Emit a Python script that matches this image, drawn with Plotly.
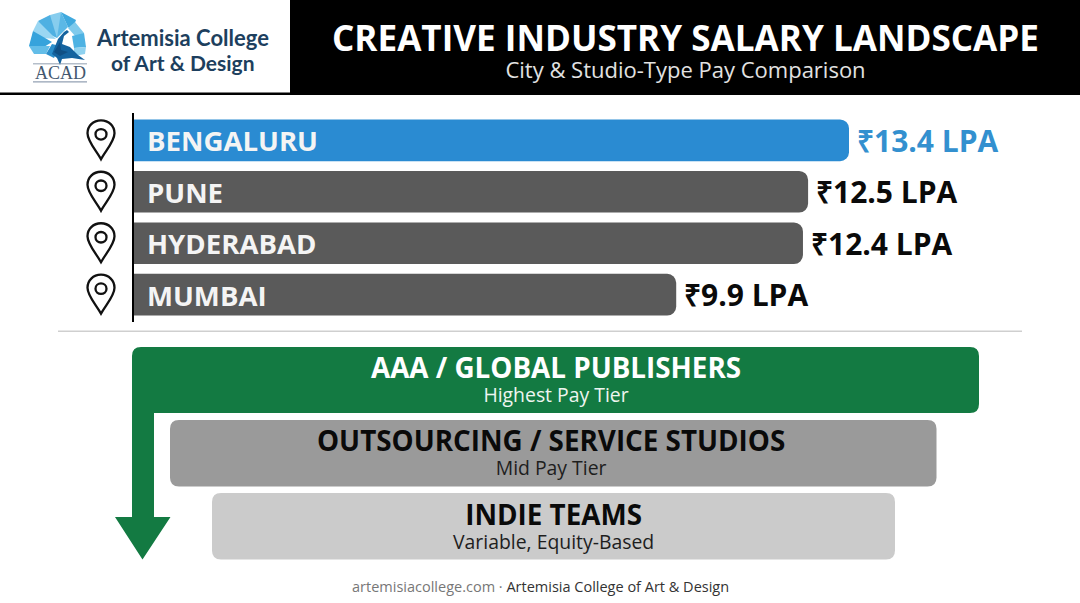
import plotly.graph_objects as go

W, H = 1080, 603
FONT = "Open Sans"

# ---- data ----
cities = ["BENGALURU", "PUNE", "HYDERABAD", "MUMBAI"]
pay_labels = ["₹13.4 LPA", "₹12.5 LPA", "₹12.4 LPA", "₹9.9 LPA"]
bar_lengths = [13.4, 12.645, 12.55, 10.21]
bar_colors = ["#2a8bd2", "#5a5a5a", "#5a5a5a", "#5a5a5a"]
label_colors = ["#3390cf", "#0a0a0a", "#0a0a0a", "#0a0a0a"]
tier_titles = ["AAA / GLOBAL PUBLISHERS", "OUTSOURCING / SERVICE STUDIOS", "INDIE TEAMS"]
tier_subs = ["Highest Pay Tier", "Mid Pay Tier", "Variable, Equity-Based"]
tier_text_colors = ["#ffffff", "#0a0a0a", "#0a0a0a"]
tier_sub_colors = ["#eef5f0", "#1e1e1e", "#1e1e1e"]


def X(p):
    return p / W


def Y(p):
    return 1 - p / H


def P(x, y):
    return f"{X(x):.5f},{Y(y):.5f}"


def poly(points):
    return "M" + " L".join(P(x, y) for x, y in points) + " Z"


def rrect(x0, y0, x1, y1, r):
    return (f"M{P(x0 + r, y0)} L{P(x1 - r, y0)} Q{P(x1, y0)} {P(x1, y0 + r)} "
            f"L{P(x1, y1 - r)} Q{P(x1, y1)} {P(x1 - r, y1)} L{P(x0 + r, y1)} "
            f"Q{P(x0, y1)} {P(x0, y1 - r)} L{P(x0, y0 + r)} Q{P(x0, y0)} {P(x0 + r, y0)} Z")


shapes = []
annots = []


def fill_shape(path, color, layer="below"):
    shapes.append(dict(type="path", xref="paper", yref="paper", path=path,
                       fillcolor=color, line=dict(width=0), layer=layer))


def text(x, y, s, size, color, bold=False, family=FONT, anchor="center"):
    annots.append(dict(xref="paper", yref="paper", x=X(x), y=Y(y), text=f"<b>{s}</b>" if bold else s,
                       showarrow=False, xanchor=anchor, yanchor="middle",
                       font=dict(family=family, size=size, color=color),
                       borderpad=0, borderwidth=0))


def two_lines(x, y, head, head_size, head_color, sub, sub_size, sub_color, base):
    s = (f'<span style="font-size:{head_size}px;color:{head_color}"><b>{head}</b></span><br>'
         f'<span style="font-size:{sub_size}px;color:{sub_color}">{sub}</span>')
    text(x, y, s, base, head_color)


# ---- header ----
fill_shape(poly([(290, 0), (W, 0), (W, 95), (290, 95)]), "#000000")
fill_shape(poly([(0, 92.5), (290, 92.5), (290, 95), (0, 95)]), "#000000")
two_lines(685, 48.5, "CREATIVE INDUSTRY SALARY LANDSCAPE", 35.1, "#ffffff",
          "City &amp; Studio-Type Pay Comparison", 22, "#e2e2e2", 21)

# logo
feathers = [
    ([(61, 12), (68, 27), (57, 38), (53, 24)], "#5bb8e6"),
    ([(50, 15), (61, 12), (57, 38), (46, 28)], "#87cdee"),
    ([(38, 21), (50, 15), (57, 38), (44, 32)], "#4fb0e2"),
    ([(33, 31), (38, 21), (56, 39), (42, 38)], "#9ad6f2"),
    ([(29, 46), (33, 31), (52, 42), (44, 47)], "#36a3dc"),
    ([(34, 54), (29, 46), (50, 46), (46, 54)], "#63bde8"),
    ([(68, 27), (61, 12), (76, 20), (72, 30)], "#3fa9de"),
    ([(75, 22), (84, 33), (76, 37), (68, 28)], "#7fcaec"),
    ([(84, 33), (86, 47), (74, 48), (72, 36)], "#4db2e3"),
    ([(74, 48), (86, 47), (85, 54), (74, 56)], "#8fd2f0"),
    ([(46, 54), (52, 44), (60, 46), (54, 58)], "#2a8ecb"),
]
for pts, col in feathers:
    fill_shape(poly(pts), col)
fill_shape(poly([(52, 54), (58, 39), (64, 32), (67, 30), (69, 32), (64, 36), (62, 44),
                 (70, 47), (78, 55), (85, 60), (72, 58), (62, 59), (60, 65), (57, 58)]), "#14639f")
fill_shape(poly([(54, 52), (60, 42), (61, 50), (68, 52), (60, 56)]), "#0f4f84")
fill_shape(poly([(33, 63.5), (87, 63.5), (87, 64.3), (33, 64.3)]), "#6c7f95")
fill_shape(poly([(33, 81.2), (87, 81.2), (87, 82.6), (33, 82.6)]), "#93a1b3")
text(60, 73, "ACAD", 18, "#44586f", family="Liberation Serif")
text(182.5, 37, "Artemisia College", 22, "#1d3f5e", bold=True, family="Lato")
text(182.5, 62.5, "of Art &amp; Design", 21, "#1d3f5e", bold=True, family="Lato")

# ---- pins, anchored on each category ----
pin_outer = ("M0,20 C-8,20 -13.5,14 -13.5,7 C-13.5,-1 -5,-10 0,-19 "
             "C5,-10 13.5,-1 13.5,7 C13.5,14 8,20 0,20 Z")
pin_inner = "M-5.5,6 C-5.5,-1 5.5,-1 5.5,6 C5.5,13 -5.5,13 -5.5,6 Z"
for i in range(len(cities)):
    for path in (pin_outer, pin_inner):
        shapes.append(dict(type="path", xref="paper", xanchor=X(101), xsizemode="pixel",
                           yref="y", yanchor=i, ysizemode="pixel", path=path,
                           fillcolor="rgba(0,0,0,0)", line=dict(color="#111111", width=2.3)))

# ---- divider ----
fill_shape(poly([(58, 330.5), (1022, 330.5), (1022, 332), (58, 332)]), "#cfcfcf")

# ---- tiers ----
r = 9
green_path = (f"M{P(132 + r, 347)} L{P(979 - r, 347)} Q{P(979, 347)} {P(979, 347 + r)} "
              f"L{P(979, 413 - r)} Q{P(979, 413)} {P(979 - r, 413)} L{P(154, 413)} "
              f"L{P(154, 517)} L{P(170.5, 517)} L{P(142.5, 559.5)} L{P(115, 517)} L{P(132, 517)} "
              f"L{P(132, 347 + r)} Q{P(132, 347)} {P(132 + r, 347)} Z")
fill_shape(green_path, "#137a42")
fill_shape(rrect(170, 420, 936.5, 486.5, r), "#9a9a9a")
fill_shape(rrect(212, 493, 895, 559.5, r), "#cbcbcb")
tier_x = [555.5, 551, 553.5]
for k_, cy in enumerate([378, 451, 524.5]):
    two_lines(tier_x[k_], cy, tier_titles[k_], 27.8, tier_text_colors[k_],
              tier_subs[k_], 19.4, tier_sub_colors[k_], 18.3)

# ---- footer ----
text(540, 586.5, '<span style="color:#777777">artemisiacollege.com · </span>Artemisia College of Art &amp; Design',
     14.5, "#333333")

# ---- bars and their labels ----
fig = go.Figure()
fig.add_trace(go.Bar(
    y=cities, x=bar_lengths, orientation="h", marker=dict(color=bar_colors, line=dict(width=0)),
    width=0.81, textposition="none", hoverinfo="skip", showlegend=False,
))
for i, c in enumerate(cities):
    annots.append(dict(xref="x", yref="y", x=0.2, y=c, xshift=11, text=f"<b>{c}</b>", showarrow=False,
                       xanchor="left", yanchor="middle",
                       font=dict(family=FONT, size=27.6, color="#f4f4f4")))
    annots.append(dict(xref="x", yref="y", x=bar_lengths[i], y=c, xshift=6, text=f"<b>{pay_labels[i]}</b>",
                       showarrow=False, xanchor="left", yanchor="middle",
                       font=dict(family=FONT, size=30, color=label_colors[i])))

x_left, x_right = 134, 1060
k = (849 - x_left) / (13.4 - 0.2)
fig.update_layout(
    width=W, height=H, margin=dict(l=0, r=0, t=0, b=0), autosize=False,
    paper_bgcolor="#ffffff", plot_bgcolor="rgba(0,0,0,0)", barcornerradius=9,
    xaxis=dict(domain=[X(x_left), X(x_right)], range=[0.2, 0.2 + (x_right - x_left) / k], visible=False, fixedrange=True),
    yaxis=dict(domain=[Y(322), Y(113)], range=[3.53, -0.53], type="category", categoryorder="array",
               categoryarray=cities, showticklabels=False, ticks="", showgrid=False,
               anchor="free", position=X(133),
               showline=True, linecolor="#000000", linewidth=2, fixedrange=True, zeroline=False),
    shapes=shapes, annotations=annots,
)
fig.write_html("out.html", config=dict(displayModeBar=False),
               post_script="document.body.style.margin='0';document.body.style.overflow='hidden';")
